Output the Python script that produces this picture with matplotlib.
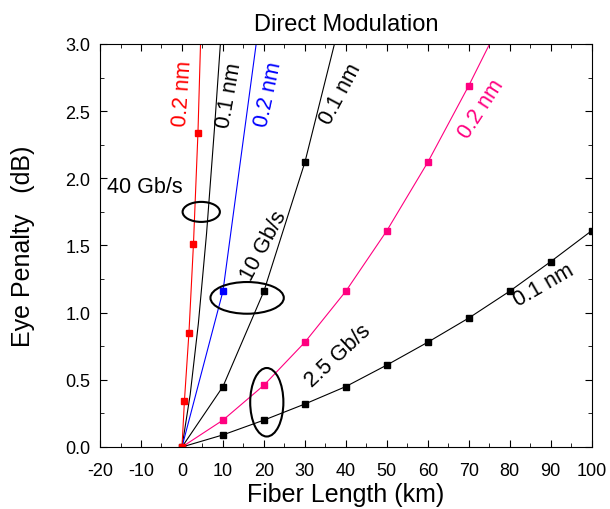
import numpy as np
import matplotlib.pyplot as plt
from matplotlib.patches import Ellipse
from matplotlib.ticker import MultipleLocator

plt.rcParams['font.family'] = ['Liberation Sans', 'DejaVu Sans']
plt.rcParams['axes.unicode_minus'] = False

# 40 Gb/s
x_40_02 = [0, 0.6, 1.7, 2.8, 3.9, 4.9]
y_40_02 = [0, 0.345, 0.85, 1.51, 2.34, 3.40]
x_40_01 = [0, 2, 4, 6, 8, 9.6]
y_40_01 = [0, 0.39, 0.92, 1.59, 2.40, 3.10]

# 10 Gb/s
x_10_02 = [0, 10, 20]
y_10_02 = [0, 1.16, 3.43]
x_10_01 = [0, 10, 20, 30, 40]
y_10_01 = [0, 0.45, 1.16, 2.12, 3.34]

# 2.5 Gb/s
x_25_02 = [0, 10, 20, 30, 40, 50, 60, 70, 80]
y_25_02 = [0, 0.20, 0.46, 0.78, 1.16, 1.61, 2.12, 2.69, 3.30]
x_25_01 = [0, 10, 20, 30, 40, 50, 60, 70, 80, 90, 100]
y_25_01 = [0, 0.09, 0.20, 0.32, 0.45, 0.61, 0.78, 0.96, 1.16, 1.38, 1.61]

red = '#ff0000'
blue = '#0000ff'
pink = '#ff0080'

fig = plt.figure(figsize=(6.1, 5.1), dpi=100)
ax = fig.add_axes([0.164, 0.1216, 0.806, 0.7902])

ms = 5
ax.plot(x_40_01, y_40_01, color='black', lw=0.8)
ax.plot(x_10_01, y_10_01, color='black', lw=0.8, marker='s', ms=ms, markevery=[1, 2, 3])
ax.plot(x_25_01, y_25_01, color='black', lw=0.8, marker='s', ms=ms)
ax.plot(x_25_02, y_25_02, color=pink, lw=0.8, marker='s', ms=ms, markevery=list(range(1, 8)))
ax.plot(x_10_02, y_10_02, color=blue, lw=0.8, marker='s', ms=ms, markevery=[1])
ax.plot(x_40_02, y_40_02, color=red, lw=0.8, marker='s', ms=ms, markevery=[0, 1, 2, 3, 4])

# ellipses grouping the bit rates
for (cx, cy, w, h) in [(4.7, 1.75, 9.1, 0.149), (15.9, 1.11, 17.9, 0.236), (20.7, 0.333, 8.1, 0.51)]:
    ax.add_patch(Ellipse((cx, cy), w, h, fill=False, edgecolor='black', lw=1.5, zorder=5))

fs = 15.5
ax.text(0.3, 2.64, '0.2 nm', color=red, rotation=86, fontsize=fs, ha='center', va='center')
ax.text(11.5, 2.62, '0.1 nm', color='black', rotation=80, fontsize=fs, ha='center', va='center')
ax.text(21.0, 2.63, '0.2 nm', color=blue, rotation=78, fontsize=fs, ha='center', va='center')
ax.text(38.6, 2.63, '0.1 nm', color='black', rotation=62, fontsize=fs, ha='center', va='center')
ax.text(73.0, 2.52, '0.2 nm', color=pink, rotation=57, fontsize=fs, ha='center', va='center')
ax.text(88.4, 1.21, '0.1 nm', color='black', rotation=30, fontsize=fs, ha='center', va='center')
ax.text(-9.0, 1.94, '40 Gb/s', color='black', fontsize=fs, ha='center', va='center')
ax.text(19.9, 1.50, '10 Gb/s', color='black', rotation=62, fontsize=fs, ha='center', va='center')
ax.text(38.1, 0.68, '2.5 Gb/s', color='black', rotation=43, fontsize=fs, ha='center', va='center')

ax.set_xlim(-20, 100)
ax.set_ylim(0, 3.0)
ax.xaxis.set_major_locator(MultipleLocator(10))
ax.xaxis.set_minor_locator(MultipleLocator(5))
ax.yaxis.set_major_locator(MultipleLocator(0.5))
ax.yaxis.set_minor_locator(MultipleLocator(0.25))
ax.yaxis.set_major_formatter(plt.FormatStrFormatter('%.1f'))
ax.tick_params(which='both', direction='in', top=True, right=True, labelsize=13)
ax.tick_params(which='major', length=5)
ax.tick_params(which='minor', length=3)
ax.tick_params(axis='x', which='major', pad=11)
ax.tick_params(axis='y', which='major', pad=7)

ax.set_xlabel('Fiber Length (km)', fontsize=18, labelpad=2)
ax.set_ylabel('Eye Penalty   (dB)', fontsize=18, labelpad=22)
ax.set_title('Direct Modulation', fontsize=17, pad=10)

fig.savefig('out.png', dpi=100)
